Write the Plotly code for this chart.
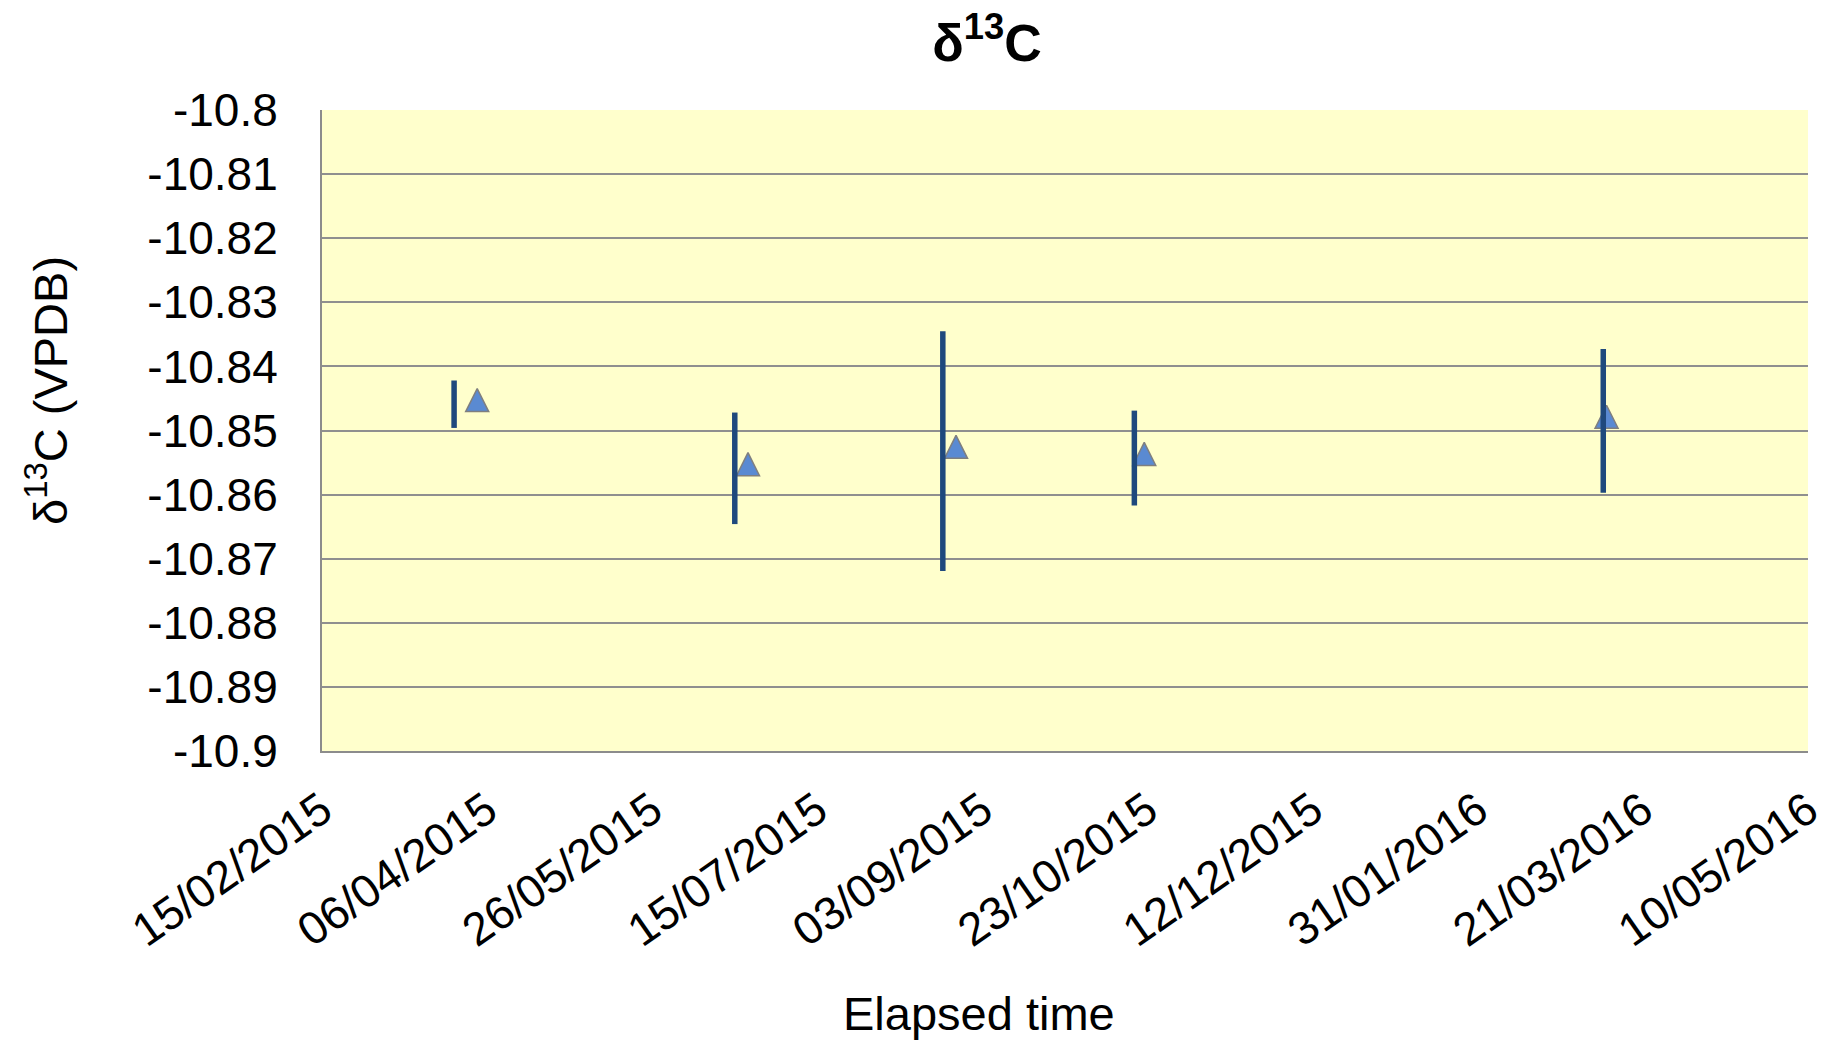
import plotly.graph_objects as go

# ---- data ----
sample_dates = ["2015-04-03", "2015-06-24", "2015-08-26", "2015-10-22", "2016-03-10"]
errorbar_dates = ["2015-03-27", "2015-06-20", "2015-08-22", "2015-10-19", "2016-03-09"]
d13c_values = [-10.8459, -10.8559, -10.8532, -10.8543, -10.8485]
d13c_errors = [0.0037, 0.0087, 0.0187, 0.0074, 0.0112]

x_tick_vals = ["2015-02-15", "2015-04-06", "2015-05-26", "2015-07-15", "2015-09-03",
               "2015-10-23", "2015-12-12", "2016-01-31", "2016-03-21", "2016-05-10"]
x_tick_labels = ["15/02/2015", "06/04/2015", "26/05/2015", "15/07/2015", "03/09/2015",
                 "23/10/2015", "12/12/2015", "31/01/2016", "21/03/2016", "10/05/2016"]
y_tick_vals = [-10.8, -10.81, -10.82, -10.83, -10.84, -10.85, -10.86, -10.87, -10.88, -10.89, -10.9]
y_tick_labels = ["-10.8", "-10.81", "-10.82", "-10.83", "-10.84", "-10.85",
                 "-10.86", "-10.87", "-10.88", "-10.89", "-10.9"]

FONT = "Liberation Sans, Arial, sans-serif"
OFF = 8  # page body margin
W, H = 1831 - OFF, 1041 - OFF
L, T = 322 - OFF, 110 - OFF
R = W - (1808 - OFF)
B = H - (751 - OFF)
PW, PH = W - L - R, H - T - B


def px_to_plot(px_x, px_y):
    """page pixel -> paper coordinates of the plot area"""
    fx, fy = px_x - OFF, px_y - OFF
    return (fx - L) / PW, 1 - (fy - T) / PH


MARKER_SIZE = 23

fig = go.Figure()

# near-equilateral upward triangle (arrow shape turned round and lifted so it
# sits over the data point like the reference's marker)
fig.add_trace(go.Scatter(
    x=sample_dates, y=d13c_values, mode="markers",
    marker=dict(symbol="arrow-down", angle=180, standoff=MARKER_SIZE * 0.68,
                size=MARKER_SIZE, color="#5a8ad2",
                line=dict(color="#7f7f7f", width=1.5)),
    showlegend=False, hoverinfo="x+y",
))

fig.add_trace(go.Scatter(
    x=errorbar_dates, y=d13c_values, mode="markers",
    marker=dict(size=1, color="rgba(0,0,0,0)"),
    error_y=dict(type="data", array=d13c_errors, visible=True,
                 color="#1f497d", thickness=5.5, width=0),
    showlegend=False, hoverinfo="skip",
))

tx, _ = px_to_plot(987, 42)
ex, ey = px_to_plot(979, 1013)
yx, yy = px_to_plot(47, 391)

fig.update_layout(
    width=W, height=H, autosize=False,
    margin=dict(l=L, r=R, t=T, b=B, pad=0, autoexpand=False),
    paper_bgcolor="white", plot_bgcolor="#ffffcc",
    font=dict(family=FONT, color="black"),
    title=dict(text="<b>δ<sup>13</sup>C</b>", font=dict(size=52, family=FONT, color="black"),
               x=tx, xanchor="center", xref="paper",
               y=1 - (43 - OFF) / H, yanchor="middle", yref="container"),
    xaxis=dict(type="date", range=["2015-02-15", "2016-05-10"], automargin=False,
               tickvals=x_tick_vals, ticktext=x_tick_labels, tickangle=-35,
               tickfont=dict(size=46, family=FONT, color="black"),
               showgrid=False, zeroline=False,
               showline=True, linecolor="#8c8c8c", linewidth=2,
               ticks="", ticklabelstandoff=12),
    yaxis=dict(range=[-10.9, -10.8], tickvals=y_tick_vals, ticktext=y_tick_labels,
               automargin=False,
               tickfont=dict(size=46, family=FONT, color="black"),
               showgrid=True, gridcolor="#8f8f8f", gridwidth=1.6, zeroline=False,
               showline=True, linecolor="#8c8c8c", linewidth=2,
               ticks="", ticklabelstandoff=33),
    annotations=[
        dict(text="Elapsed time", x=ex, y=ey, xref="paper", yref="paper",
             xanchor="center", yanchor="middle", showarrow=False,
             font=dict(size=47, family=FONT, color="black")),
        dict(text="δ<sup>13</sup>C (VPDB)", x=yx, y=yy,
             xref="paper", yref="paper", xanchor="center", yanchor="middle",
             textangle=-90, showarrow=False,
             font=dict(size=47, family=FONT, color="black")),
    ],
)

fig.write_html("out.html")
